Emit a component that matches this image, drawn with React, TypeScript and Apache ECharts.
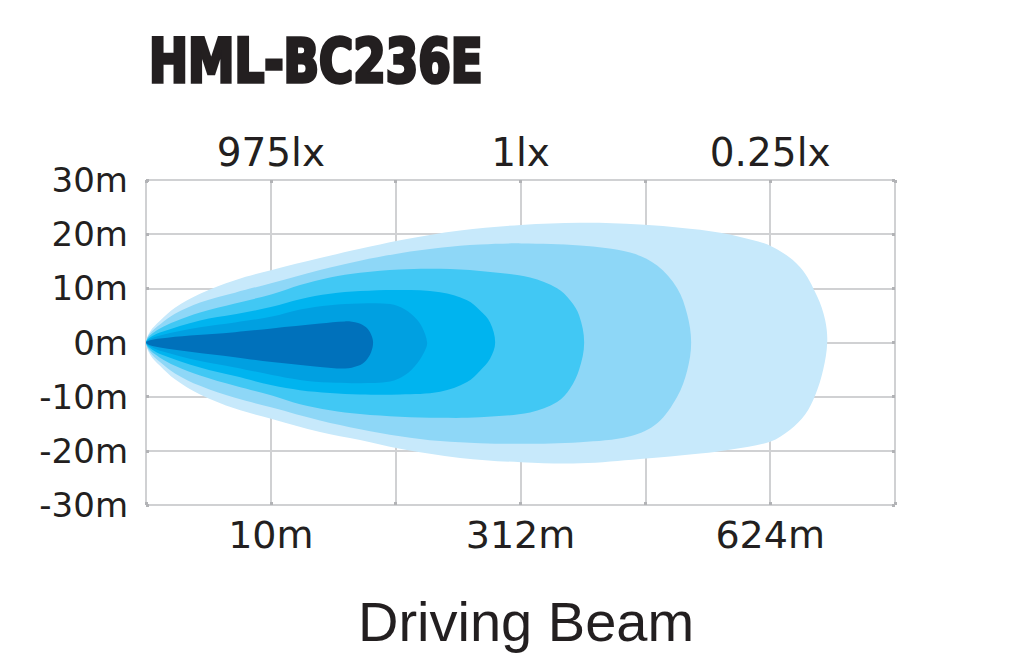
import React, { useEffect, useRef } from "react";
import * as echarts from "echarts";

// ---- data ----
const chartTitle = "HML-BC236E";
const beamName = "Driving Beam";
const distanceTicks = ["", "10m", "", "312m", "", "624m", ""];
const luxTicks = ["", "975lx", "", "1lx", "", "0.25lx", ""];
const lateralMin = -30;
const lateralMax = 30;
const lateralStep = 10;

// isolux zone outlines: [column position, lateral metres]; upper edge and lower edge
const zone1Upper: number[][] = [[0, 0], [0.032, 2.0], [0.112, 4.0], [0.232, 6.4], [0.433, 9.0], [0.713, 11.5], [1.009, 13.4], [1.394, 15.6], [1.715, 17.3], [2.035, 18.9], [2.516, 20.7], [3.005, 21.7], [3.478, 22.1], [3.958, 21.8], [4.439, 20.8], [4.76, 19.5], [5.024, 17.6], [5.24, 13.9], [5.377, 8.5], [5.44, 4.2], [5.457, 0]];
const zone1Lower: number[][] = [[0, 0], [0.032, -2.2], [0.112, -4.3], [0.232, -6.8], [0.433, -9.6], [0.713, -12.2], [1.009, -14.1], [1.394, -16.5], [1.715, -18.0], [2.035, -19.6], [2.516, -21.3], [3.005, -22.1], [3.478, -22.3], [3.958, -21.5], [4.439, -20.5], [4.7, -19.7], [5.0, -18.3], [5.16, -16.1], [5.28, -13.3], [5.36, -9.8], [5.425, -5.0], [5.457, 0]];
const zone2Upper: number[][] = [[0, 0], [0.032, 1.67], [0.112, 3.33], [0.232, 5.3], [0.433, 7.4], [0.713, 9.2], [1.009, 11.0], [1.394, 13.4], [1.715, 15.1], [2.035, 16.5], [2.356, 17.5], [2.676, 18.1], [3.005, 18.3], [3.478, 17.9], [3.878, 16.6], [4.095, 14.2], [4.255, 10.0], [4.335, 5.2], [4.367, 0]];
const zone2Lower: number[][] = [[0, 0], [0.032, -1.8], [0.112, -3.6], [0.232, -5.7], [0.433, -8.0], [0.713, -10.2], [1.009, -12.0], [1.394, -14.4], [1.715, -16.0], [2.035, -17.3], [2.356, -18.2], [2.676, -18.6], [3.005, -18.7], [3.478, -18.4], [3.878, -17.3], [4.095, -14.9], [4.255, -10.0], [4.335, -5.2], [4.367, 0]];
const zone3Upper: number[][] = [[0, 0], [0.032, 1.3], [0.112, 2.59], [0.232, 3.9], [0.433, 5.56], [0.713, 7.22], [1.009, 8.9], [1.234, 10.6], [1.474, 12.0], [1.715, 12.9], [2.035, 13.5], [2.356, 13.6], [2.676, 13.2], [3.077, 12.0], [3.293, 10.0], [3.397, 7.8], [3.47, 5.0], [3.51, 0]];
const zone3Lower: number[][] = [[0, 0], [0.032, -1.4], [0.112, -2.8], [0.232, -4.3], [0.433, -6.1], [0.713, -8.0], [1.009, -9.8], [1.234, -11.4], [1.474, -12.5], [1.715, -13.2], [2.035, -13.7], [2.356, -13.9], [2.676, -13.8], [3.077, -12.9], [3.293, -11.0], [3.397, -8.5], [3.47, -5.0], [3.51, 0]];
const zone4Upper: number[][] = [[0, 0], [0.032, 0.93], [0.112, 1.85], [0.433, 4.07], [0.713, 5.2], [1.009, 6.6], [1.234, 8.0], [1.474, 9.0], [1.715, 9.5], [2.035, 9.7], [2.356, 9.3], [2.572, 7.8], [2.676, 5.9], [2.756, 3.7], [2.797, 0]];
const zone4Lower: number[][] = [[0, 0], [0.032, -1.0], [0.112, -2.1], [0.433, -4.6], [0.713, -6.2], [1.009, -7.9], [1.234, -8.8], [1.474, -9.3], [1.715, -9.6], [2.035, -9.6], [2.356, -9.1], [2.572, -7.3], [2.676, -5.2], [2.756, -3.0], [2.797, 0]];
const zone5Upper: number[][] = [[0, 0], [0.032, 0.65], [0.112, 1.3], [0.433, 2.8], [0.713, 3.7], [1.009, 4.8], [1.234, 6.1], [1.474, 6.9], [1.715, 7.2], [1.955, 7.1], [2.075, 6.1], [2.155, 4.6], [2.212, 2.8], [2.252, 0]];
const zone5Lower: number[][] = [[0, 0], [0.032, -0.7], [0.112, -1.5], [0.433, -3.4], [0.713, -4.6], [1.009, -6.0], [1.234, -6.9], [1.474, -7.4], [1.715, -7.5], [1.955, -7.2], [2.075, -6.0], [2.17, -3.9], [2.232, -1.6], [2.252, 0]];
const zone6Upper: number[][] = [[0, 0], [0.032, 0.4], [0.112, 0.74], [0.353, 1.3], [0.713, 1.9], [1.009, 2.6], [1.394, 3.5], [1.595, 3.9], [1.699, 3.6], [1.763, 2.8], [1.803, 1.5], [1.819, 0]];
const zone6Lower: number[][] = [[0, 0], [0.032, -0.5], [0.112, -0.9], [0.353, -1.7], [0.713, -2.7], [1.009, -3.6], [1.394, -4.5], [1.595, -4.8], [1.699, -4.3], [1.763, -3.3], [1.803, -1.8], [1.819, 0]];

const zones = [
  [zone1Upper, zone1Lower],
  [zone2Upper, zone2Lower],
  [zone3Upper, zone3Lower],
  [zone4Upper, zone4Lower],
  [zone5Upper, zone5Lower],
  [zone6Upper, zone6Lower],
];
const zoneColors = ["#c7e9fb", "#8ed7f7", "#41c8f4", "#00b4ef", "#00a0e1", "#0071bb"];

const textColor = "#231f20";
const gridColor = "#d0d1d3";
const tickColor = "#b2b3b6";

function outline(upper: number[][], lower: number[][]): number[][] {
  return [...upper, ...lower.slice(1, -1).reverse()];
}

export default function App() {
  const ref = useRef<HTMLDivElement>(null);

  useEffect(() => {
    if (!ref.current) return;
    const chart = echarts.init(ref.current, null, { renderer: "svg" });

    const series = zones.map(([upper, lower], i) => {
      const pts = outline(upper, lower);
      return {
        type: "custom",
        name: "zone" + (i + 1),
        data: pts,
        encode: { x: 0, y: 1 },
        z: 2 + i,
        silent: true,
        renderItem: (params: any, api: any) => {
          if (params.dataIndex !== 0) return null;
          const points = pts.map((p) => api.coord(p));
          return {
            type: "polygon",
            shape: { points, smooth: 0.35 },
            style: { fill: zoneColors[i] },
          };
        },
      };
    });

    const labelFont = "DejaVu Sans";
    const tick = { show: true, inside: true, length: 3, lineStyle: { color: tickColor, width: 3 } };

    chart.setOption({
      animation: false,
      backgroundColor: "#ffffff",
      grid: { left: 146, right: 122, top: 180, bottom: 161, containLabel: false },
      xAxis: [
        {
          type: "value",
          position: "bottom",
          min: 0,
          max: 6,
          interval: 1,
          axisLine: { show: false, onZero: false },
          axisTick: tick,
          splitLine: { show: true, lineStyle: { color: gridColor, width: 2 } },
          axisLabel: {
            margin: 11,
            color: textColor,
            fontFamily: labelFont,
            fontSize: 38,
            formatter: (v: number) => distanceTicks[Math.round(v)] ?? "",
          },
        },
        {
          type: "value",
          position: "top",
          min: 0,
          max: 6,
          interval: 1,
          axisLine: { show: false, onZero: false },
          axisTick: tick,
          splitLine: { show: false },
          axisLabel: {
            margin: 8,
            color: textColor,
            fontFamily: labelFont,
            fontSize: 39,
            formatter: (v: number) => luxTicks[Math.round(v)] ?? "",
          },
        },
      ],
      yAxis: [
        {
          type: "value",
          position: "left",
          min: lateralMin,
          max: lateralMax,
          interval: lateralStep,
          axisLine: { show: false, onZero: false },
          axisTick: tick,
          splitLine: { show: true, lineStyle: { color: gridColor, width: 2 } },
          axisLabel: {
            margin: 18,
            color: textColor,
            fontFamily: labelFont,
            fontSize: 34,
            formatter: (v: number) => `${v}m`,
          },
        },
        {
          type: "value",
          position: "right",
          min: lateralMin,
          max: lateralMax,
          interval: lateralStep,
          axisLine: { show: false, onZero: false },
          axisTick: tick,
          splitLine: { show: false },
          axisLabel: { show: false },
        },
      ],
      graphic: [
        {
          type: "text",
          x: 149,
          y: 60,
          scaleX: 0.85,
          style: {
            text: chartTitle,
            fill: textColor,
            stroke: textColor,
            lineWidth: 3.5,
            fontFamily: "'DejaVu Sans Condensed', 'DejaVu Sans', sans-serif",
            fontWeight: "bold",
            fontSize: 61,
            align: "left",
            verticalAlign: "middle",
          },
        },
        {
          type: "text",
          x: 526,
          y: 621,
          style: {
            text: beamName,
            fill: textColor,
            fontFamily: "'Liberation Sans', Arial, sans-serif",
            fontSize: 56,
            align: "center",
            verticalAlign: "middle",
          },
        },
      ],
      series,
    });

    return () => chart.dispose();
  }, []);

  return (
    <div
      ref={ref}
      style={{ position: "fixed", left: 0, top: 0, width: 1017, height: 666, background: "#fff" }}
    />
  );
}
